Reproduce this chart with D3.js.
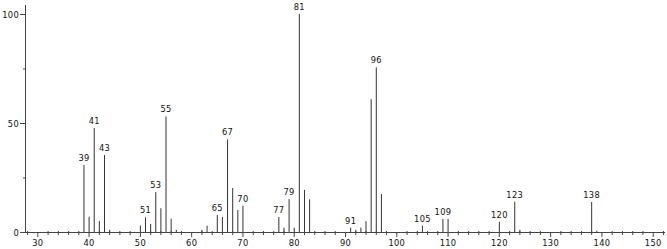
<!DOCTYPE html>
<html>
<head>
<meta charset="utf-8">
<script src="https://cdn.jsdelivr.net/npm/d3@7"></script>
<style>
  body { margin: 0; background: #fff; }
  text { font-family: "DejaVu Sans", sans-serif; font-size: 8.3px; fill: #111; letter-spacing: 0.3px; }
</style>
</head>
<body>
<div id="chart"></div>
<script>
// m/z values and relative intensities
const mz = [39, 40, 41, 42, 43, 44, 50, 51, 52, 53, 54, 55, 56, 57,
            62, 63, 65, 66, 67, 68, 69, 70, 77, 78, 79, 80, 81, 82, 83,
            91, 92, 93, 94, 95, 96, 97, 105, 109, 110, 120, 123, 124, 138, 139];
const intensity = [30.7, 7, 47.7, 5, 35.3, 1, 3, 6.7, 3.7, 18.3, 10.9, 53, 6.1, 1,
                   1, 2.9, 7.8, 6.9, 42.5, 20.2, 10.1, 12.1, 6.9, 2, 15.1, 2, 100, 19.3, 15,
                   2, 1, 2, 5, 60.9, 75.5, 17.4, 2.9, 6, 6, 4.7, 13.9, 1, 13.8, 0.6];
const labelled = [39, 41, 43, 51, 53, 55, 65, 67, 70, 77, 79, 81, 91, 96, 105, 109, 120, 123, 138];
const xTicks = [30, 40, 50, 60, 70, 80, 90, 100, 110, 120, 130, 140, 150];
const yTicks = [0, 50, 100];

const width = 667, height = 249;
const peaks = mz.map((m, i) => ({ m: m, v: intensity[i] }));

const x = d3.scaleLinear().domain([27.5, 152.3]).range([25, 665]);
const y = d3.scaleLinear().domain([0, 100]).range([232, 14]);

const svg = d3.select('#chart')
    .append('svg')
    .attr('width', width)
    .attr('height', height);

// peaks
svg.append('g')
    .selectAll('line')
    .data(peaks)
    .join('line')
    .attr('x1', d => x(d.m))
    .attr('x2', d => x(d.m))
    .attr('y1', y(0))
    .attr('y2', d => y(d.v))
    .attr('stroke', '#333')
    .attr('stroke-width', 1);

// peak labels
svg.append('g')
    .selectAll('text')
    .data(peaks.filter(d => labelled.includes(d.m)))
    .join('text')
    .attr('x', d => x(d.m))
    .attr('y', d => y(d.v) - 4)
    .attr('text-anchor', 'middle')
    .text(d => d.m);

// x axis
const xAxis = svg.append('g');
xAxis.append('line')
    .attr('x1', 25).attr('x2', 665)
    .attr('y1', y(0) + 0.5).attr('y2', y(0) + 0.5)
    .attr('stroke', '#444');
xAxis.selectAll('.minor')
    .data(d3.range(28, 153, 2).filter(v => v % 10 !== 0))
    .join('line')
    .attr('class', 'minor')
    .attr('x1', d => x(d)).attr('x2', d => x(d))
    .attr('y1', y(0) - 1).attr('y2', y(0) + 3)
    .attr('stroke', '#444');
xAxis.selectAll('.major')
    .data(xTicks)
    .join('line')
    .attr('class', 'major')
    .attr('x1', d => x(d)).attr('x2', d => x(d))
    .attr('y1', y(0)).attr('y2', y(0) + 5)
    .attr('stroke', '#444');
xAxis.selectAll('text')
    .data(xTicks)
    .join('text')
    .attr('x', d => x(d))
    .attr('y', 246)
    .attr('text-anchor', 'middle')
    .text(d => d);

// y axis
const yAxis = svg.append('g');
yAxis.append('line')
    .attr('x1', 25.5).attr('x2', 25.5)
    .attr('y1', 5).attr('y2', y(0) + 1)
    .attr('stroke', '#444');
yAxis.selectAll('.minor')
    .data([25, 75])
    .join('line')
    .attr('class', 'minor')
    .attr('x1', 23).attr('x2', 25)
    .attr('y1', d => y(d) + 0.5).attr('y2', d => y(d) + 0.5)
    .attr('stroke', '#444');
yAxis.selectAll('.major')
    .data(yTicks)
    .join('line')
    .attr('class', 'major')
    .attr('x1', 20).attr('x2', 25)
    .attr('y1', d => y(d) + 0.5).attr('y2', d => y(d) + 0.5)
    .attr('stroke', '#444');
yAxis.selectAll('text')
    .data(yTicks)
    .join('text')
    .attr('x', 19)
    .attr('y', d => y(d) + 3.5)
    .attr('text-anchor', 'end')
    .text(d => d);
</script>
</body>
</html>
